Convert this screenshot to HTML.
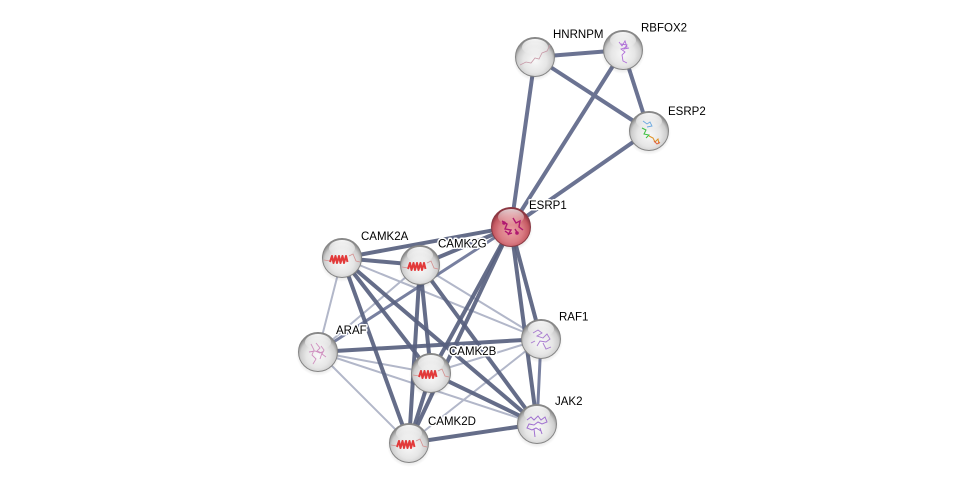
<!DOCTYPE html>
<html>
<head>
<meta charset="utf-8">
<style>
  html,body{margin:0;padding:0;background:#ffffff;}
  body{width:975px;height:488px;overflow:hidden;}
  svg{display:block;}
  text{font-family:"Liberation Sans",Arial,sans-serif;font-size:11.5px;fill:#000;paint-order:stroke;stroke:#ffffff;stroke-width:3px;stroke-linejoin:round;}
</style>
</head>
<body>
<svg width="975" height="488" viewBox="0 0 975 488" xmlns="http://www.w3.org/2000/svg">
  <defs>
    <radialGradient id="gw" cx="50%" cy="60%" r="55%">
      <stop offset="0%" stop-color="#f8f8f8"/>
      <stop offset="55%" stop-color="#e6e6e6"/>
      <stop offset="82%" stop-color="#cdcdcd"/>
      <stop offset="100%" stop-color="#8c8c8c"/>
    </radialGradient>
    <radialGradient id="gr" cx="50%" cy="60%" r="55%">
      <stop offset="0%" stop-color="#eba0a6"/>
      <stop offset="55%" stop-color="#da7c84"/>
      <stop offset="82%" stop-color="#c55a63"/>
      <stop offset="100%" stop-color="#8e3440"/>
    </radialGradient>
    <linearGradient id="hl" x1="0" y1="0" x2="0" y2="1">
      <stop offset="0%" stop-color="#ffffff" stop-opacity="0.95"/>
      <stop offset="100%" stop-color="#ffffff" stop-opacity="0"/>
    </linearGradient>
    <radialGradient id="sh" cx="50%" cy="50%" r="50%">
      <stop offset="60%" stop-color="#000" stop-opacity="0.18"/>
      <stop offset="100%" stop-color="#000" stop-opacity="0"/>
    </radialGradient>
    <g id="sphere">
      <circle cx="0" cy="2" r="22" fill="url(#sh)"/>
      <circle cx="0" cy="0" r="19.5" fill="url(#gw)" stroke="#858585" stroke-width="1"/>
      <ellipse cx="0" cy="-10" rx="13" ry="8" fill="url(#hl)"/>
    </g>
    <g id="rsphere">
      <circle cx="0" cy="2" r="22" fill="url(#sh)"/>
      <circle cx="0" cy="0" r="19.5" fill="url(#gr)" stroke="#8a3a44" stroke-width="1"/>
      <ellipse cx="0" cy="-10" rx="13" ry="8" fill="url(#hl)" opacity="0.8"/>
    </g>
    <g id="helix">
      <path d="M-18,2 L-12,3" stroke="#d49090" stroke-width="0.8" fill="none"/>
      <path d="M-12,4 l2,-6 l1.5,7 l2,-7 l1.5,7 l2,-7 l1.5,7 l2,-7 l1.5,7 l2,-7 l1.5,6" stroke="#e23a3a" stroke-width="2" fill="none" stroke-linejoin="round"/>
      <path d="M7,-2 L11,-4 L14,3 L18,4" stroke="#d49090" stroke-width="0.8" fill="none"/>
    </g>
  </defs>

  <!-- light edges -->
  <g stroke="#b2b7c9" stroke-width="2" stroke-linecap="round">
    <line x1="342" y1="258" x2="318" y2="352"/>
    <line x1="342" y1="258" x2="541" y2="339"/>
    <line x1="420" y1="265" x2="541" y2="339"/>
    <line x1="318" y1="352" x2="420" y2="265"/>
    <line x1="318" y1="352" x2="431" y2="373"/>
    <line x1="318" y1="352" x2="537" y2="424"/>
    <line x1="318" y1="352" x2="409" y2="443"/>
    <line x1="431" y1="373" x2="541" y2="339"/>
    <line x1="409" y1="443" x2="541" y2="339"/>
  </g>
  <!-- medium edges -->
  <g stroke="#7880a0" stroke-width="3" stroke-linecap="round">
    <line x1="318" y1="352" x2="511" y2="227"/>
    <line x1="541" y1="339" x2="537" y2="424"/>
  </g>
  <!-- dark edges top -->
  <g stroke="#6b7392" stroke-width="4" stroke-linecap="round">
    <line x1="535" y1="57" x2="623" y2="50"/>
    <line x1="535" y1="57" x2="649" y2="131"/>
    <line x1="623" y1="50" x2="649" y2="131"/>
    <line x1="535" y1="57" x2="511" y2="227"/>
    <line x1="623" y1="50" x2="511" y2="227"/>
    <line x1="649" y1="131" x2="511" y2="227"/>
  </g>
  <!-- dark edges lower -->
  <g stroke="#58617f" stroke-width="4" stroke-linecap="round" stroke-opacity="0.92">
    <line x1="342" y1="258" x2="420" y2="265"/>
    <line x1="342" y1="258" x2="511" y2="227"/>
    <line x1="420" y1="265" x2="511" y2="227"/>
    <line x1="511" y1="227" x2="431" y2="373"/>
    <line x1="511" y1="227" x2="409" y2="443"/>
    <line x1="511" y1="227" x2="541" y2="339"/>
    <line x1="511" y1="227" x2="537" y2="424"/>
    <line x1="342" y1="258" x2="431" y2="373"/>
    <line x1="342" y1="258" x2="409" y2="443"/>
    <line x1="342" y1="258" x2="537" y2="424"/>
    <line x1="420" y1="265" x2="431" y2="373"/>
    <line x1="420" y1="265" x2="409" y2="443"/>
    <line x1="420" y1="265" x2="537" y2="424"/>
    <line x1="431" y1="373" x2="409" y2="443"/>
    <line x1="431" y1="373" x2="537" y2="424"/>
    <line x1="409" y1="443" x2="537" y2="424"/>
    <line x1="318" y1="352" x2="541" y2="339"/>
  </g>

  <!-- nodes -->
  <g transform="translate(535,57)">
    <use href="#sphere"/>
    <path d="M-15,8 L-9,5 L-4,6 L0,1 L4,2 L7,-4 L12,-6 L15,-12" stroke="#c89aa8" stroke-width="0.8" fill="none"/>
  </g>
  <g transform="translate(623,50)">
    <use href="#sphere"/>
    <path d="M-4,-8 l3,4 l3,-5 l2,6 l-6,2 l4,3 l-3,3 l1,6 l4,2 M-2,-6 l6,1 l-3,4 l5,-1" stroke="#b070d8" stroke-width="0.9" fill="none"/>
  </g>
  <g transform="translate(649,131)">
    <use href="#sphere"/>
    <path d="M-6,-10 l4,3 l3,-2 l2,4 l-5,1" stroke="#6aa8e0" stroke-width="0.9" fill="none"/>
    <path d="M-7,-3 l4,2 l-2,4 l5,1 l-3,3" stroke="#3cc040" stroke-width="1" fill="none"/>
    <path d="M0,5 l4,2 l2,4 l3,-3 l1,5" stroke="#e09020" stroke-width="1" fill="none"/>
    <path d="M5,10 l3,3 l3,-2" stroke="#e06040" stroke-width="1" fill="none"/>
  </g>
  <g transform="translate(511,227)">
    <use href="#rsphere"/>
    <path d="M-9,-6 l5,3 l-2,5 l6,1 l-3,5 M2,-9 l3,5 l4,-2 l-1,6 l4,3 M-6,4 l4,3 l3,-1 M4,2 l3,5" stroke="#b01870" stroke-width="1.4" fill="none"/>
    <circle cx="-7" cy="-4" r="1.8" fill="#b01870"/>
    <circle cx="6" cy="6" r="1.8" fill="#b01870"/>
  </g>
  <g transform="translate(342,258)"><use href="#sphere"/><use href="#helix"/></g>
  <g transform="translate(420,265)"><use href="#sphere"/><use href="#helix"/></g>
  <g transform="translate(431,373)"><use href="#sphere"/><use href="#helix"/></g>
  <g transform="translate(409,443)"><use href="#sphere"/><use href="#helix"/></g>
  <g transform="translate(318,352)">
    <use href="#sphere"/>
    <path d="M-7,-8 l3,6 l-2,5 l4,4 l-3,5 M-2,-9 l4,5 l-3,3 l5,2 l-2,6 M3,-6 l3,4 l-2,4 l4,3 M-9,0 l6,-1 l5,2 l4,-2" stroke="#d090c0" stroke-width="0.9" fill="none"/>
  </g>
  <g transform="translate(541,339)">
    <use href="#sphere"/>
    <path d="M-8,-6 l5,-3 l4,3 l-5,3 l6,2 l4,-4 l3,5 l-4,3 l-6,-1 l-3,5 M2,4 l3,6 l5,-2 M-10,4 l4,-2" stroke="#a87ad0" stroke-width="0.9" fill="none"/>
  </g>
  <g transform="translate(537,424)">
    <use href="#sphere"/>
    <path d="M-10,-4 l4,-3 l3,3 l4,-4 l3,4 l4,-3 l2,5 l-5,2 l-4,-2 l-4,3 l-5,-1 l-2,4 l5,2 l4,-2 l5,3 M-3,5 l1,8 M3,4 l2,6" stroke="#a070d0" stroke-width="1" fill="none"/>
  </g>

  <!-- labels -->
  <text x="553" y="38">HNRNPM</text>
  <text x="641" y="31.5">RBFOX2</text>
  <text x="668" y="115">ESRP2</text>
  <text x="529" y="209">ESRP1</text>
  <text x="361" y="240">CAMK2A</text>
  <text x="438" y="247.5">CAMK2G</text>
  <text x="336" y="334">ARAF</text>
  <text x="449" y="355">CAMK2B</text>
  <text x="559" y="320.5">RAF1</text>
  <text x="555" y="405">JAK2</text>
  <text x="428" y="425">CAMK2D</text>
</svg>
</body>
</html>
